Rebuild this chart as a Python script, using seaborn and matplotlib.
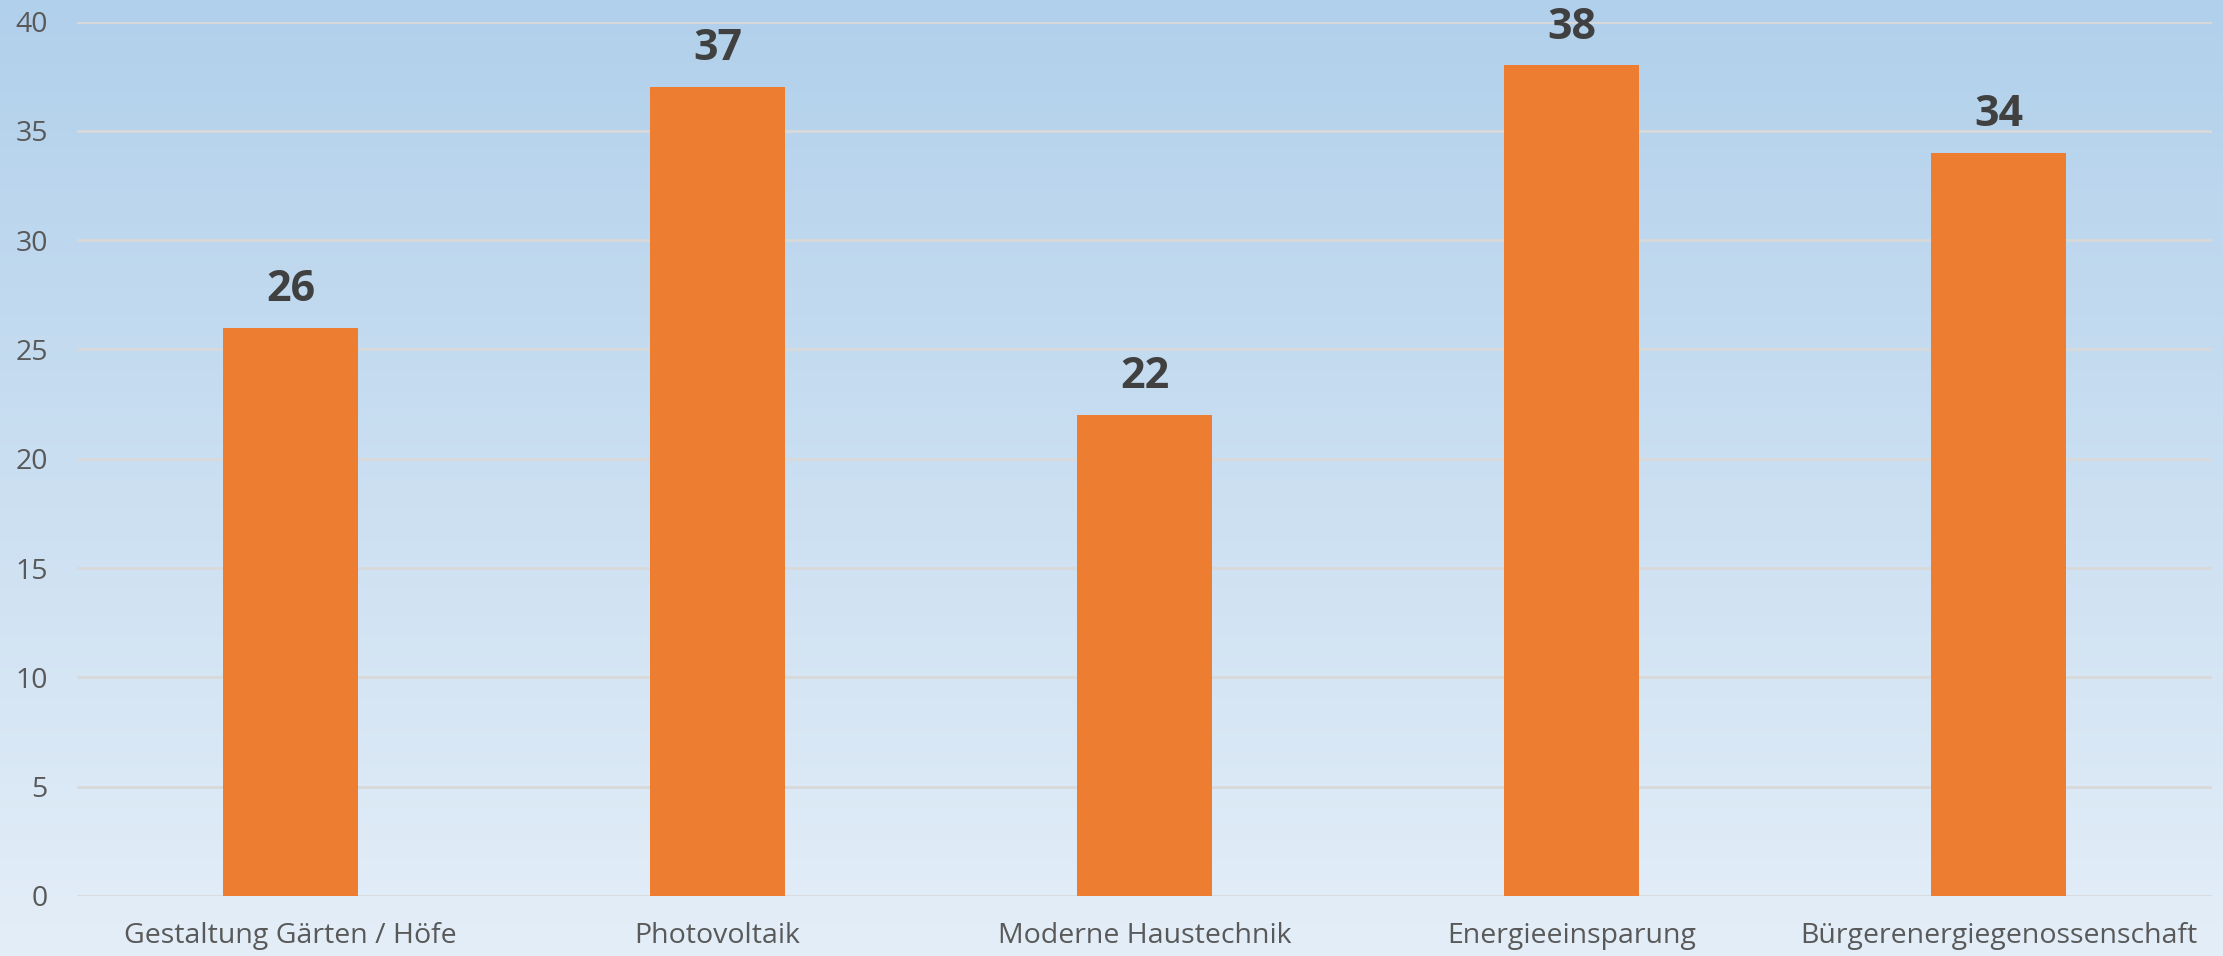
import numpy as np
import pandas as pd
import matplotlib
matplotlib.use("Agg")
import matplotlib.pyplot as plt
import seaborn as sns
from matplotlib.colors import LinearSegmentedColormap

categories = ["Gestaltung Gärten / Höfe", "Photovoltaik", "Moderne Haustechnik",
              "Energieeinsparung", "Bürgerenergiegenossenschaft"]
values = [26, 37, 22, 38, 34]
yticks = [0, 5, 10, 15, 20, 25, 30, 35, 40]

sns.set_theme(style="white")
plt.rcParams['font.family'] = ['Open Sans', 'DejaVu Sans']

fig = plt.figure(figsize=(22.23, 9.56), dpi=100)

# gradient background
bg = fig.add_axes([0, 0, 1, 1], zorder=-10)
cmap = LinearSegmentedColormap.from_list("bg", ["#e4eef8", "#b1d0eb"])
grad = np.linspace(0, 1, 256).reshape(-1, 1)
bg.imshow(grad, aspect="auto", cmap=cmap, origin="lower", extent=[0, 1, 0, 1])
bg.set_axis_off()

ax = fig.add_axes([77/2223, 60/956, (2212-77)/2223, (896-21.5)/956])
ax.set_facecolor("none")
df = pd.DataFrame({"cat": categories, "val": values})
sns.barplot(data=df, x="cat", y="val", color="#ED7D31", width=0.316,
            saturation=1, ax=ax, zorder=3, edgecolor="none", linewidth=0)

ax.set_ylim(0, 40)
ax.set_xlim(-0.5, len(categories) - 0.5)
ax.set_yticks(yticks)
ax.set_yticklabels([str(t) for t in yticks])
ax.yaxis.grid(True, color="#d9d9d9", linewidth=2, zorder=0)
ax.set_axisbelow(True)
for s in ax.spines.values():
    s.set_visible(False)
ax.tick_params(axis="both", length=0, labelsize=20.5, colors="#595959")
ax.tick_params(axis="y", pad=21)
ax.tick_params(axis="x", pad=19)
ax.set_xlabel("")
ax.set_ylabel("")

for i, v in enumerate(values):
    ax.annotate(str(v), (i, v), xytext=(0, 12), textcoords="offset points",
                ha="center", va="bottom", fontsize=31, fontweight="bold",
                color="#404040")

fig.savefig("out.png", dpi=100)
